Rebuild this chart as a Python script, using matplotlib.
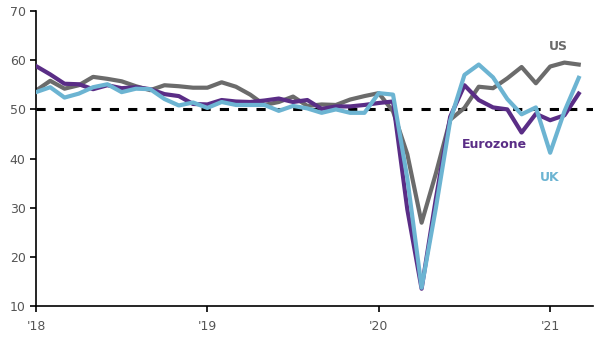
import numpy as np
from matplotlib import pyplot as plt

# composite PMI, monthly Jan 2018 .. Mar 2021
us = [53.8, 55.8, 54.2, 54.9, 56.6, 56.2, 55.7, 54.7, 53.9, 54.9, 54.7, 54.4,
      54.4, 55.5, 54.6, 53.0, 50.9, 51.5, 52.6, 50.7, 51.0, 50.9, 52.0, 52.7,
      53.3, 49.6, 40.9, 27.0, 37.0, 47.9, 50.3, 54.6, 54.3, 56.3, 58.6, 55.3,
      58.7, 59.5, 59.1]
eurozone = [58.8, 57.1, 55.2, 55.1, 54.1, 54.9, 54.3, 54.5, 54.1, 53.1, 52.7, 51.1,
            51.0, 51.9, 51.6, 51.5, 51.8, 52.2, 51.5, 51.9, 50.1, 50.6, 50.6, 50.9,
            51.3, 51.6, 29.7, 13.6, 31.9, 48.5, 54.9, 51.9, 50.4, 50.0, 45.3, 49.1,
            47.8, 48.8, 53.2]
uk = [53.5, 54.5, 52.4, 53.2, 54.5, 55.1, 53.5, 54.2, 54.1, 52.1, 50.8, 51.4,
      50.3, 51.5, 50.9, 50.9, 50.9, 49.7, 50.7, 50.2, 49.3, 50.0, 49.3, 49.3,
      53.3, 53.0, 36.0, 13.8, 30.0, 47.7, 57.0, 59.1, 56.5, 52.1, 49.0, 50.4,
      41.2, 49.6, 56.4]
tick_pos = [0, 12, 24, 36]
tick_labels = ["'18", "'19", "'20", "'21"]

c_us = '#6b6b6b'
c_ez = '#5a2d86'
c_uk = '#6cb4d2'

fig = plt.figure(figsize=(5.99, 3.39), dpi=100)
ax = fig.add_axes([0.060, 0.096, 0.930, 0.872])

x = np.arange(len(us))
ax.axhline(50, color='black', lw=2.2, dashes=(3.0, 3.0), zorder=1)
ax.plot(x, us, color=c_us, lw=3.0, zorder=2)
ax.plot(x, eurozone, color=c_ez, lw=3.0, zorder=3)
ax.plot(x, uk, color=c_uk, lw=3.0, zorder=4)

ax.text(36.6, 62.7, 'US', color=c_us, fontsize=9, fontweight='bold', ha='center', va='center')
ax.text(32.1, 42.8, 'Eurozone', color=c_ez, fontsize=9, fontweight='bold', ha='center', va='center')
ax.text(36.0, 36.1, 'UK', color=c_uk, fontsize=9, fontweight='bold', ha='center', va='center')

ax.set_xlim(0, 39)
ax.set_ylim(10, 70)
ax.set_yticks(range(10, 71, 10))
ax.set_xticks(tick_pos)
ax.set_xticklabels(tick_labels)
for s in ['top', 'right']:
    ax.spines[s].set_visible(False)
for s in ['left', 'bottom']:
    ax.spines[s].set_linewidth(1.2)
ax.tick_params(axis='both', direction='out', length=4, width=1.2, colors='black',
               labelcolor='#555555', labelsize=9)
ax.tick_params(axis='x', pad=6)

plt.savefig('out.png', dpi=100)
